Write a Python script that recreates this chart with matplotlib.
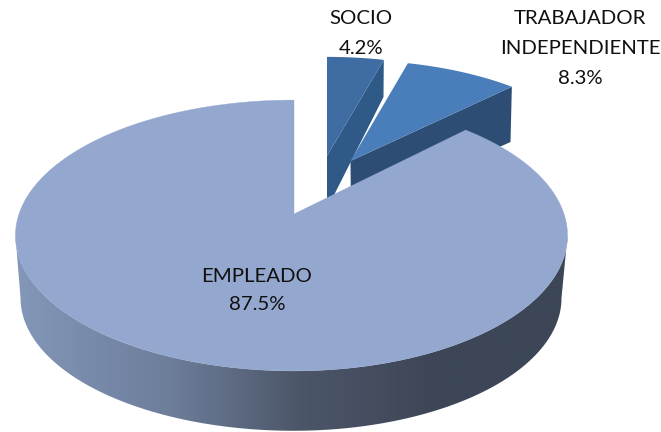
import numpy as np
import matplotlib
matplotlib.use("Agg")
import matplotlib.pyplot as plt
from matplotlib.patches import Polygon
from matplotlib.colors import LinearSegmentedColormap

categories = ["SOCIO", "TRABAJADOR\nINDEPENDIENTE", "EMPLEADO"]
shares = [4.2, 8.3, 87.5]
labels = ["4.2%", "8.3%", "87.5%"]

W, H = 661, 432
fig = plt.figure(figsize=(W / 100, H / 100), dpi=100)
ax = fig.add_axes([0, 0, 1, 1])

# clockwise slice limits from 12 o'clock, from the shares
edges = np.concatenate([[0.0], np.cumsum(shares)]) / np.sum(shares) * 2 * np.pi
K = 0.1587


def rim(theta, x0, y0, sx=1.0, sy=1.0):
    """Perspective projection of the unit circle."""
    u, v = np.sin(theta), np.cos(theta)
    w = 1 + K * v
    ax_ = np.where(u < 0, 275.0, 270.0)
    return x0 + sx * ax_ * u / w, y0 - sy * 132.0 * v / w


def arc(a, b, *args, n=200, **kw):
    t = np.linspace(a, b, n)
    return np.column_stack(rim(t, *args, **kw))


MAIN = dict(x0=294, y0=214)
MAIN_BOTTOM = dict(x0=293.5, y0=277, sx=0.98, sy=0.98)

# front wall with horizontal gradient, between the silhouette tangent points
t_right = np.arccos(-K)
t_left = 2 * np.pi - t_right
top_front = arc(t_right, t_left, **MAIN)
bot_front = arc(t_right, t_left, **MAIN_BOTTOM)
wall = Polygon(np.vstack([top_front, bot_front[::-1]]), closed=True,
               transform=ax.transData, fc="none", ec="none")
ax.add_patch(wall)
stops = [(15, "#8397b8"), (100, "#7789a9"), (165, "#6e7f9c"), (300, "#4c5669"),
         (440, "#3c4656"), (570, "#3c4656")]
cmap = LinearSegmentedColormap.from_list(
    "wall", [((x - 15) / 555, c) for x, c in stops])
im = ax.imshow(np.linspace(0, 1, 512)[None, :], cmap=cmap, aspect="auto",
               extent=(15, 570, 432, 100), zorder=1)
im.set_clip_path(wall)

# main top face
main_top = np.vstack([[[294, 214]], arc(edges[2], edges[3], **MAIN, n=500)])
ax.add_patch(Polygon(main_top, closed=True, fc="#94a8cf", ec="#94a8cf", lw=0.3, zorder=4))

# SOCIO slice
p = dict(x0=327, y0=156, sx=0.93, sy=0.87)
top = arc(edges[0], edges[1], **p)
ax.add_patch(Polygon(np.vstack([top[-1], [383.5, 97], [327, 209], [327, 156]]),
                     closed=True, fc="#2f5a88", ec="none", zorder=2))
ax.add_patch(Polygon(np.vstack([[[327, 156]], top]), closed=True,
                     fc="#3f6da3", ec="none", zorder=3))

# TRABAJADOR slice
p = dict(x0=350.5, y0=161, sx=0.94, sy=0.885)
top = arc(edges[1], edges[2], **p)
ax.add_patch(Polygon(np.vstack([top[-1], [510.5, 142], [351, 214], [350.5, 161]]),
                     closed=True, fc="#2d4d75", ec="none", zorder=2))
ax.add_patch(Polygon(np.vstack([[[350.5, 161]], top]), closed=True,
                     fc="#4a7ebb", ec="none", zorder=3))

font = dict(family="Lato", fontsize=14.7, color="#101010", ha="center", va="center", zorder=6)
ax.text(361, 18, categories[0], **font)
ax.text(361, 48, labels[0], **font)
first, second = categories[1].split("\n")
ax.text(580, 18, first, **font)
ax.text(580, 48, second, **font)
ax.text(580, 78, labels[1], **font)
ax.text(257, 276, categories[2], **font)
ax.text(257, 305, labels[2], **font)

ax.set_xlim(0, W)
ax.set_ylim(H, 0)
ax.axis("off")
fig.savefig("out.png", dpi=100, facecolor="white")
